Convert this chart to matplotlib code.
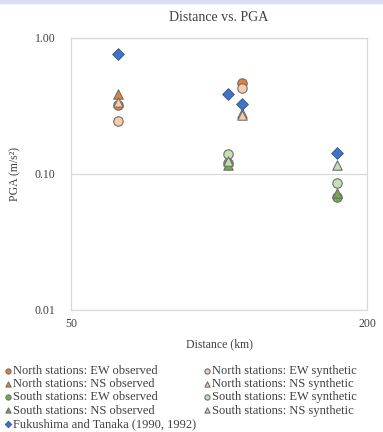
import matplotlib.pyplot as plt
import matplotlib.patches as mpatches
from matplotlib.ticker import FixedLocator, NullLocator, FixedFormatter

plt.rcParams['font.family'] = ['Liberation Serif', 'DejaVu Serif']

# distances (km) of the station groups
d_north = [62.4, 111.6]
d_south = [104.5, 174.0]
d_fuku = [62.4, 104.5, 111.6, 174.0]

# PGA (m/s^2)
n_ew_obs = [0.32, 0.467]
n_ew_syn = [0.245, 0.427]
n_ns_obs = [0.39, 0.28]
n_ns_syn = [0.34, 0.27]
s_ew_obs = [0.12, 0.0675]
s_ew_syn = [0.140, 0.0855]
s_ns_obs = [0.116, 0.072]
s_ns_syn = [0.125, 0.116]
fukushima = [0.76, 0.39, 0.325, 0.142]

orange = '#ED7D31'
orange_l = '#F8CBAD'
green = '#70AD47'
green_l = '#C5E0B4'
blue = '#4472C4'
edge = '#6f6f6f'

fig = plt.figure(figsize=(3.83, 4.32), dpi=100)
fig.patches.append(mpatches.Rectangle((0, 1 - 3 / 432), 1, 3 / 432, transform=fig.transFigure,
                                      color='#dcdcf7', zorder=0))
ax = fig.add_axes([71 / 383, 1 - 310 / 432, 296 / 383, 272 / 432])

ms = 46
series = [
    (d_north, n_ew_obs, 'o', orange, 'North stations: EW observed'),
    (d_north, n_ew_syn, 'o', orange_l, 'North stations: EW synthetic'),
    (d_north, n_ns_obs, '^', orange, 'North stations: NS observed'),
    (d_north, n_ns_syn, '^', orange_l, 'North stations: NS synthetic'),
    (d_south, s_ew_obs, 'o', green, 'South stations: EW observed'),
    (d_south, s_ew_syn, 'o', green_l, 'South stations: EW synthetic'),
    (d_south, s_ns_obs, '^', green, 'South stations: NS observed'),
    (d_south, s_ns_syn, '^', green_l, 'South stations: NS synthetic'),
]
handles = {}
for i, (x, y, m, c, lab) in enumerate(series):
    handles[lab] = ax.scatter(x, y, s=ms, marker=m, facecolor=c, edgecolor=edge,
                              linewidth=0.8, label=lab, zorder=3 + i)
handles['Fukushima and Tanaka (1990, 1992)'] = ax.scatter(
    d_fuku, fukushima, s=36, marker='D', facecolor=blue, edgecolor='#2f5597',
    linewidth=0.6, label='Fukushima and Tanaka (1990, 1992)', zorder=20)

ax.set_xscale('log')
ax.set_yscale('log')
ax.set_xlim(50, 200)
ax.set_ylim(0.01, 1)
ax.xaxis.set_major_locator(FixedLocator([50, 200]))
ax.xaxis.set_major_formatter(FixedFormatter(['50', '200']))
ax.xaxis.set_minor_locator(NullLocator())
ax.yaxis.set_major_locator(FixedLocator([0.01, 0.1, 1]))
ax.yaxis.set_major_formatter(FixedFormatter(['0.01', '0.10', '1.00']))
ax.yaxis.set_minor_locator(NullLocator())
ax.tick_params(length=0, labelsize=8.5, colors='#404040')
ax.tick_params(axis='x', pad=6)
ax.tick_params(axis='y', pad=11)
ax.grid(axis='y', color='#d9d9d9', linewidth=0.9)
for s in ax.spines.values():
    s.set_color('#d9d9d9')
    s.set_linewidth(0.9)

ax.set_title('Distance vs. PGA', fontsize=10, color='#404040', pad=12)
ax.set_xlabel('Distance (km)', fontsize=8.5, color='#404040', labelpad=6)
ax.set_ylabel('PGA (m/s²)', fontsize=8.5, color='#404040', labelpad=10)

order = ['North stations: EW observed', 'North stations: NS observed',
         'South stations: EW observed', 'South stations: NS observed',
         'Fukushima and Tanaka (1990, 1992)',
         'North stations: EW synthetic', 'North stations: NS synthetic',
         'South stations: EW synthetic', 'South stations: NS synthetic']
fig.legend([handles[k] for k in order], order, loc='upper left',
           bbox_to_anchor=(-0.005, 1 - 358 / 432), ncol=2, frameon=False,
           fontsize=9, markerscale=0.55, handlelength=0.5, handletextpad=0.15,
           columnspacing=0.6, labelspacing=0.1, borderaxespad=0.15,
           labelcolor='#404040')

fig.savefig('out.png', dpi=100)
